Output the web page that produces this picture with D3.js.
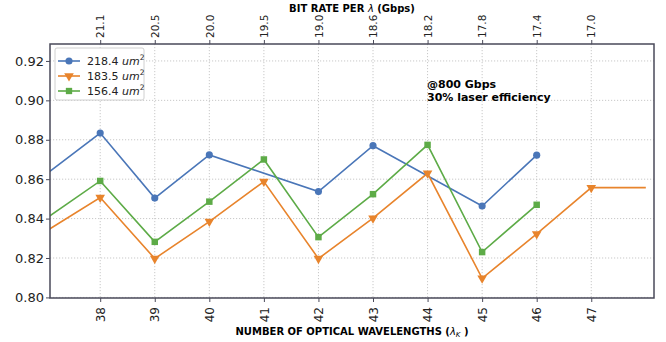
<!DOCTYPE html>
<html>
<head>
<meta charset="utf-8">
<script src="https://cdn.jsdelivr.net/npm/d3@7"></script>
<style>
  body { margin: 0; background: #fff; }
  svg text { font-family: 'DejaVu Sans', sans-serif; }
</style>
</head>
<body>
<div id="chart"></div>
<script>
// wavelengths (37 and 48 sit outside the visible range, clipped by the frame)
const wavelengths = [37, 38, 39, 40, 41, 42, 43, 44, 45, 46, 47, 48];
const tickWavelengths = [38, 39, 40, 41, 42, 43, 44, 45, 46, 47];
const bitRateLabels = ['21.1', '20.5', '20.0', '19.5', '19.0', '18.6', '18.2', '17.8', '17.4', '17.0'];
const yTicks = [0.80, 0.82, 0.84, 0.86, 0.88, 0.90, 0.92];

// null = no point at that wavelength
const area218 = [0.8624, 0.8834, 0.8504, 0.8723, null, 0.8537, 0.877, null, 0.8464, 0.8722, null, null];
const area183 = [0.8335, 0.8507, 0.8197, 0.8385, 0.8588, 0.8197, 0.8402, 0.863, 0.8097, 0.8322, 0.8557, 0.8557];
const area156 = [0.8399, 0.8591, 0.8282, 0.8486, 0.870, 0.8306, 0.8524, 0.8774, 0.823, 0.847, null, null];

const seriesNames = ['218.4', '183.5', '156.4'];
const seriesColors = ['#4a76b8', '#e8842c', '#5dab47'];
const seriesShapes = [d3.symbolCircle, d3.symbolTriangle, d3.symbolSquare];
const seriesValues = [area218, area183, area156];

const size = { width: 666, height: 342 };
const margin = { top: 44, right: 12, bottom: 44, left: 50 };

const svg = d3.select('#chart').append('svg')
  .attr('width', size.width)
  .attr('height', size.height);

const x = d3.scaleLinear()
  .domain([37.08, 48.15])
  .range([margin.left, size.width - margin.right]);
const y = d3.scaleLinear()
  .domain([0.7997, 0.9286])
  .range([size.height - margin.bottom, margin.top]);

svg.append('defs').append('clipPath').attr('id', 'plotClip')
  .append('rect')
  .attr('x', margin.left)
  .attr('y', margin.top)
  .attr('width', size.width - margin.left - margin.right)
  .attr('height', size.height - margin.top - margin.bottom);

// grid
const grid = svg.append('g');
grid.selectAll('.vgrid').data(tickWavelengths).enter().append('line')
  .attr('x1', (d) => x(d)).attr('x2', (d) => x(d))
  .attr('y1', margin.top).attr('y2', size.height - margin.bottom)
  .style('stroke', '#c8c8c8').style('stroke-dasharray', '1.2,1.8').style('stroke-width', 1);
grid.selectAll('.hgrid').data(yTicks).enter().append('line')
  .attr('x1', margin.left).attr('x2', size.width - margin.right)
  .attr('y1', (d) => y(d)).attr('y2', (d) => y(d))
  .style('stroke', '#c8c8c8').style('stroke-dasharray', '1.2,1.8').style('stroke-width', 1);

// lines and markers
const plot = svg.append('g').attr('clip-path', 'url(#plotClip)');
seriesValues.forEach((vals, i) => {
  const pts = wavelengths.map((w, j) => ({ w, v: vals[j] })).filter((p) => p.v !== null);
  const line = d3.line().x((d) => x(d.w)).y((d) => y(d.v));
  plot.append('path')
    .datum(pts)
    .attr('d', line)
    .attr('fill', 'none')
    .attr('stroke', seriesColors[i])
    .attr('stroke-width', 1.6);
  const sym = d3.symbol().type(seriesShapes[i]).size(i === 2 ? 42 : 40);
  plot.selectAll(`.m${i}`).data(pts.filter((p) => p.w >= 38 && p.w <= 47)).enter().append('path')
    .attr('d', sym)
    .attr('transform', (d) => `translate(${x(d.w)},${y(d.v)})${i === 1 ? ' rotate(180)' : ''}`)
    .attr('fill', seriesColors[i]);
});

// axes
const frameColor = '#4a4a5a';
const bottomAxis = svg.append('g')
  .attr('transform', `translate(0,${size.height - margin.bottom})`)
  .call(d3.axisBottom(x).tickValues(tickWavelengths).tickSize(4).tickFormat(d3.format('d')));
bottomAxis.selectAll('text')
  .attr('transform', 'rotate(-90)')
  .attr('text-anchor', 'end')
  .attr('x', -9)
  .attr('y', 0)
  .attr('dy', '0.35em')
  .style('font-size', '12px')
  .attr('fill', '#222');

const topAxis = svg.append('g')
  .attr('transform', `translate(0,${margin.top})`)
  .call(d3.axisTop(x).tickValues(tickWavelengths).tickSize(4)
    .tickFormat((d, i) => bitRateLabels[i]));
topAxis.selectAll('text')
  .attr('transform', 'rotate(-90)')
  .attr('text-anchor', 'start')
  .attr('x', 6)
  .attr('y', 0)
  .attr('dy', '0.35em')
  .style('font-size', '10.5px')
  .attr('fill', '#222');

const leftAxis = svg.append('g')
  .attr('transform', `translate(${margin.left},0)`)
  .call(d3.axisLeft(y).tickValues(yTicks).tickSize(4).tickFormat(d3.format('.2f')));
leftAxis.selectAll('text').style('font-size', '13px').attr('fill', '#222').attr('x', -6);

[bottomAxis, topAxis, leftAxis].forEach((a) => {
  a.select('.domain').remove();
  a.selectAll('line').attr('stroke', frameColor);
});

svg.append('rect')
  .attr('x', margin.left)
  .attr('y', margin.top)
  .attr('width', size.width - margin.left - margin.right)
  .attr('height', size.height - margin.top - margin.bottom)
  .attr('fill', 'none')
  .attr('stroke', frameColor)
  .attr('stroke-width', 1.5);

// axis titles
const topTitle = svg.append('text')
  .attr('x', 352).attr('y', 12)
  .attr('text-anchor', 'middle')
  .style('font-size', '10px').style('font-weight', 'bold');
topTitle.append('tspan').text('BIT RATE PER ');
topTitle.append('tspan').text('λ').style('font-weight', 'normal').style('font-style', 'italic');
topTitle.append('tspan').text(' (Gbps)');

const bottomTitle = svg.append('text')
  .attr('x', 352).attr('y', 335)
  .attr('text-anchor', 'middle')
  .style('font-size', '10px').style('font-weight', 'bold');
bottomTitle.append('tspan').text('NUMBER OF OPTICAL WAVELENGTHS (');
bottomTitle.append('tspan').text('λ').style('font-weight', 'normal').style('font-style', 'italic');
bottomTitle.append('tspan').text('K').style('font-weight', 'normal').style('font-style', 'italic')
  .style('font-size', '7px').attr('dy', 2);
bottomTitle.append('tspan').text(' )').attr('dy', -2);

// annotation
svg.append('text').text('@800 Gbps')
  .attr('x', 427).attr('y', 88)
  .style('font-size', '11px').style('font-weight', 'bold');
svg.append('text').text('30% laser efficiency')
  .attr('x', 427).attr('y', 101)
  .style('font-size', '11px').style('font-weight', 'bold');

// legend
const legend = svg.append('g');
legend.append('rect')
  .attr('x', 55).attr('y', 48).attr('width', 89).attr('height', 52)
  .attr('rx', 2)
  .attr('fill', '#fff')
  .attr('stroke', '#d0d0d0');
seriesNames.forEach((name, i) => {
  const ly = 61 + i * 15;
  legend.append('line')
    .attr('x1', 58).attr('x2', 80).attr('y1', ly).attr('y2', ly)
    .attr('stroke', seriesColors[i]).attr('stroke-width', 1.6);
  legend.append('path')
    .attr('d', d3.symbol().type(seriesShapes[i]).size(40))
    .attr('transform', `translate(69,${ly})${i === 1 ? ' rotate(180)' : ''}`)
    .attr('fill', seriesColors[i]);
  const t = legend.append('text')
    .attr('x', 87).attr('y', ly + 4)
    .style('font-size', '11px').attr('fill', '#222');
  t.append('tspan').text(`${name} `);
  t.append('tspan').text('um').style('font-style', 'italic');
  t.append('tspan').text('2').style('font-size', '7.5px').attr('dy', -5);
});
</script>
</body>
</html>
